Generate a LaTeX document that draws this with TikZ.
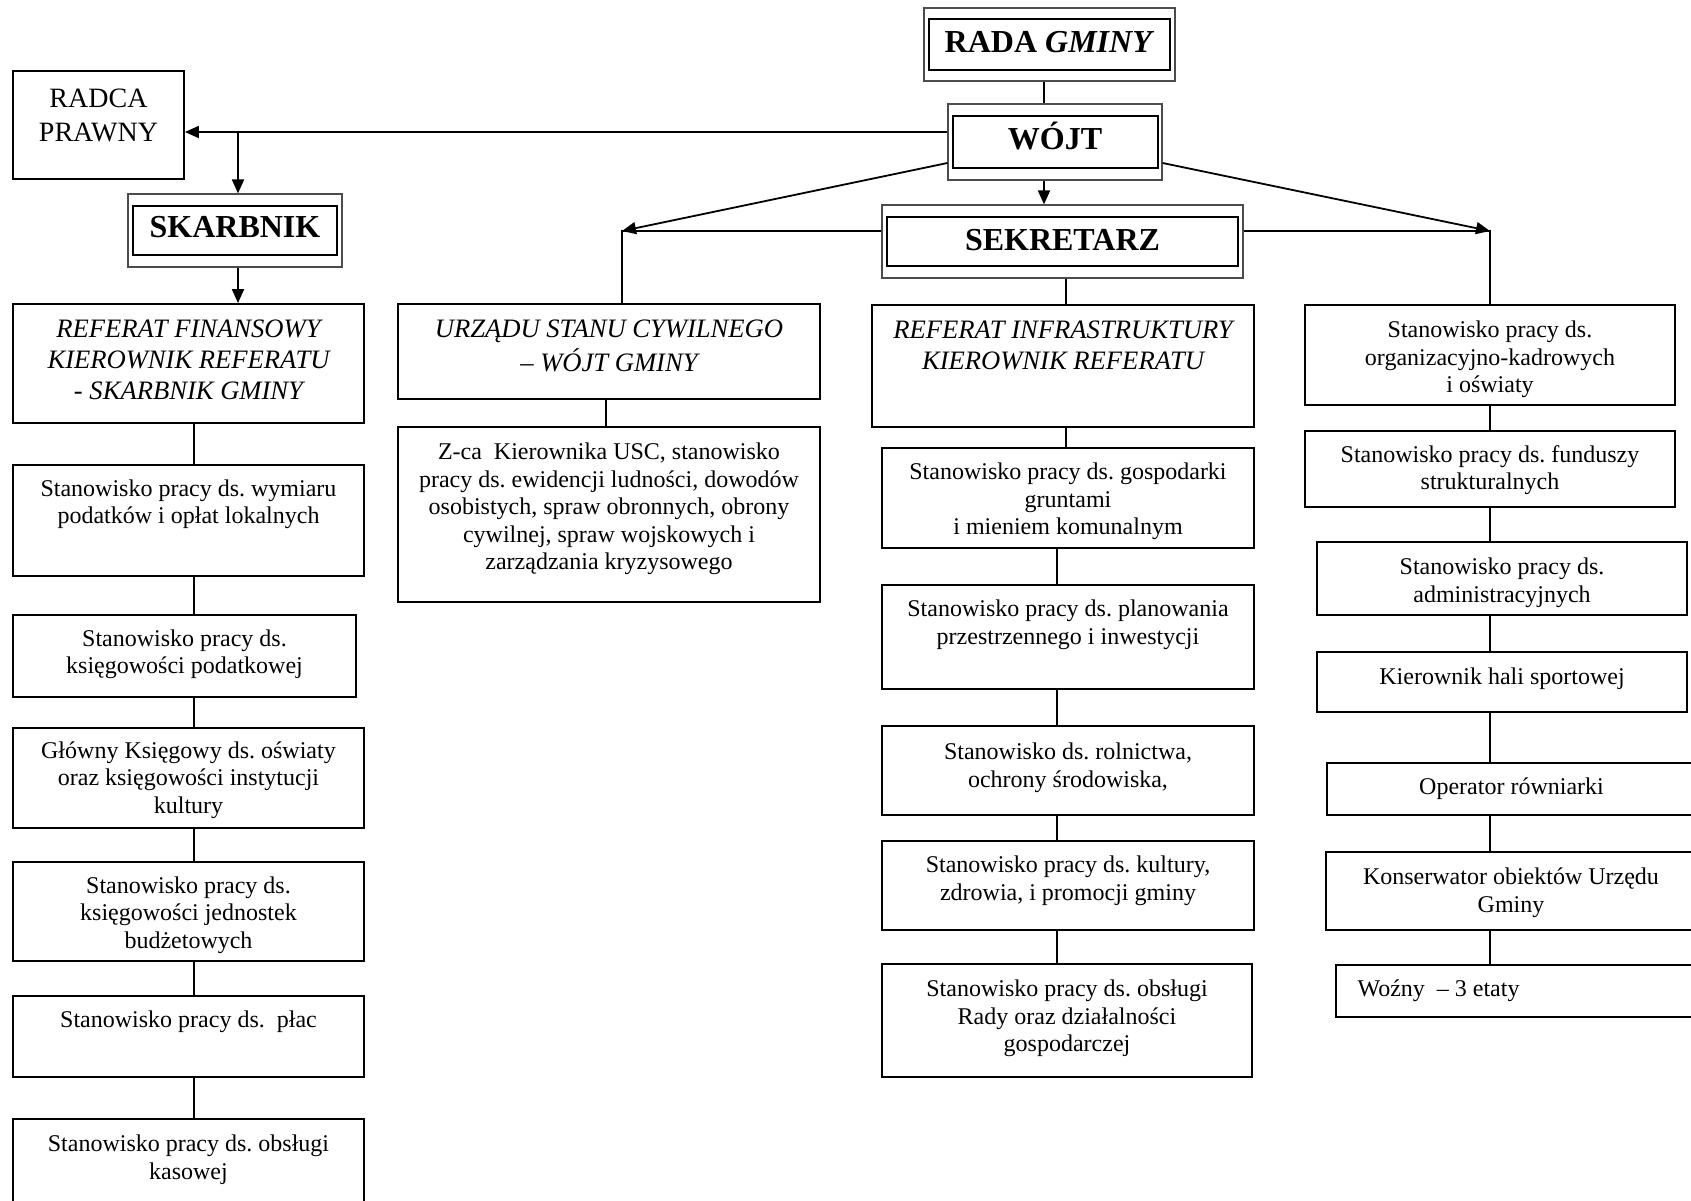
\documentclass[tikz,border=0pt]{standalone}
\usepackage{fontspec}
\setmainfont{Liberation Serif}
\usetikzlibrary{arrows.meta,calc,fit}
\frenchspacing
\newcommand\bx[8]{%
  \node[box, fit={(#2,#3) (#4,#5)}] (#1) {};
  \node[#7, anchor=north] (#1t) at ($(#1.north)+(0,#6)$) {\strut#8};}
\begin{document}
\begin{tikzpicture}[x=0.5pt,y=-0.5pt,
  box/.style={draw=black, line width=0.9pt, inner sep=0pt, rectangle},
  obox/.style={draw=black!70, line width=0.6pt, inner sep=0pt, rectangle},
  ibox/.style={draw=black, line width=1.3pt, inner sep=0pt, rectangle},
  txt/.style={inner sep=0pt, align=center, font=\fontsize{12}{13.8}\selectfont\frenchspacing},
  itx/.style={inner sep=0pt, align=center, font=\fontsize{13.3}{15.4}\selectfont\itshape\frenchspacing},
  rtx/.style={inner sep=0pt, align=center, font=\fontsize{14}{17}\selectfont},
  ttl/.style={inner sep=0pt, font=\fontsize{16}{18}\selectfont\bfseries},
  ln/.style={line width=0.9pt},
  arr/.style={line width=0.9pt, -{Triangle[length=7pt,width=6pt]}}]
\useasboundingbox[fill=white] (0,0) rectangle (1691,1200);
\clip (0,0) rectangle (1691,1200);

% ---- top level (double frames)
\node[obox, fit={(924,8) (1175,81)}] (rada) {};
\node[ibox, fit={(929,19) (1170,70)}] (radai) {};
\node[ttl, anchor=base] (radat) at ($(rada.north)+(0,45)$) {RADA \textit{GMINY}};

\node[obox, fit={(948,104) (1162,180)}] (wojt) {};
\node[ibox, fit={(953,116) (1158,168)}] (wojti) {};
\node[ttl, anchor=base] (wojtt) at ($(wojt.north)+(0,46)$) {WÓJT};

\node[obox, fit={(128,194) (342,267)}] (skarb) {};
\node[ibox, fit={(133,206) (337,255)}] (skarbi) {};
\node[ttl, anchor=base] (skarbt) at ($(skarb.north)+(0,44)$) {SKARBNIK};

\node[obox, fit={(882,205) (1243,278)}] (sek) {};
\node[ibox, fit={(887,217) (1238,266)}] (seki) {};
\node[ttl, anchor=base] (sekt) at ($(sek.north)+(0,46)$) {SEKRETARZ};

\bx{radca}{13}{71}{184}{179}{13}{rtx}{RADCA\\PRAWNY}

% ---- column 1
\bx{fin}{13}{304}{364}{423}{12.4}{itx}{REFERAT FINANSOWY\\KIEROWNIK REFERATU\\- SKARBNIK GMINY}
\bx{wym}{13}{465}{364}{576}{12.2}{txt}{Stanowisko pracy ds. wymiaru\\podatków i opłat lokalnych}
\bx{pod}{13}{615}{356}{697}{12.2}{txt}{Stanowisko pracy ds.\\księgowości podatkowej}
\bx{glo}{13}{728}{364}{828}{11.2}{txt}{Główny Księgowy ds. oświaty\\oraz księgowości instytucji\\kultury}
\bx{jed}{13}{862}{364}{961}{12.2}{txt}{Stanowisko pracy ds.\\księgowości jednostek\\budżetowych}
\bx{pla}{13}{996}{364}{1077}{12.2}{txt}{Stanowisko pracy ds.\ \ płac}
\bx{kas}{13}{1119}{364}{1215}{13.7}{txt}{Stanowisko pracy ds. obsługi\\kasowej}

% ---- column 2
\bx{urz}{398}{304}{820}{399}{12.4}{itx}{URZĄDU STANU CYWILNEGO\\– WÓJT GMINY}
\bx{zca}{398}{427}{820}{602}{13.7}{txt}{Z-ca\ \ Kierownika USC, stanowisko\\pracy ds. ewidencji ludności, dowodów\\osobistych, spraw obronnych, obrony\\cywilnej, spraw wojskowych i\\zarządzania kryzysowego}

% ---- column 3
\bx{inf}{872}{305}{1254}{427}{12.9}{itx}{REFERAT INFRASTRUKTURY\\KIEROWNIK REFERATU}
\bx{gos}{882}{448}{1254}{548}{12.7}{txt}{Stanowisko pracy ds. gospodarki\\gruntami\\i mieniem komunalnym}
\bx{pln}{882}{585}{1254}{689}{12.7}{txt}{Stanowisko pracy ds. planowania\\przestrzennego i inwestycji}
\bx{rol}{882}{726}{1254}{815}{14.7}{txt}{Stanowisko ds. rolnictwa,\\ochrony środowiska,}
\bx{kul}{882}{841}{1254}{930}{12.7}{txt}{Stanowisko pracy ds. kultury,\\zdrowia, i promocji gminy}
\bx{rad}{882}{964}{1252}{1077}{13.7}{txt}{Stanowisko pracy ds. obsługi\\Rady oraz działalności\\gospodarczej}

% ---- column 4
\bx{org}{1305}{305}{1675}{405}{13.7}{txt}{Stanowisko pracy ds.\\organizacyjno-kadrowych\\i oświaty}
\bx{fun}{1305}{431}{1675}{507}{12.2}{txt}{Stanowisko pracy ds. funduszy\\strukturalnych}
\bx{adm}{1317}{542}{1687}{615}{13.7}{txt}{Stanowisko pracy ds.\\administracyjnych}
\bx{hal}{1317}{652}{1687}{712}{13.7}{txt}{Kierownik hali sportowej}
\bx{ope}{1327}{763}{1696}{815}{12.7}{txt}{Operator równiarki}
\bx{kon}{1326}{852}{1696}{930}{13.7}{txt}{Konserwator obiektów Urzędu\\Gminy}
\node[box, fit={(1336,965) (1698,1017)}] (woz) {};
\node[txt, anchor=north west] (wozt) at ($(woz.north west)+(22,12.7)$) {\strut Woźny\ \ – 3 etaty};

% ---- connector helper coordinates
\coordinate (xR) at (1044,0);
\coordinate (yA) at (0,132);
\coordinate (yD) at (0,163);
\coordinate (brL) at (238,132);
\coordinate (dl) at (622,231);
\coordinate (dr) at (1490,231);
\coordinate (c1) at (194,0);
\coordinate (c2) at (606,0);
\coordinate (c3a) at (1066,0);
\coordinate (c3b) at (1057,0);
\coordinate (c4) at (1490,0);

% ---- connectors
\draw[ln] (rada.south -| xR) -- (wojt.north -| xR);
\draw[arr] (wojt.south -| xR) -- (sek.north -| xR);
\draw[arr] (wojt.west |- yA) -- (radca.east |- yA);
\draw[arr] (brL) -- (brL |- skarb.north);
\draw[arr] (skarb.south -| brL) -- (fin.north -| brL);

\draw[arr] (wojt.west |- yD) -- (dl);
\draw[ln] (sek.west |- dl) -- (dl) -- (dl |- urz.north);
\draw[arr] (wojt.east |- yD) -- (dr);
\draw[ln] (sek.east |- dr) -- (dr) -- (dr |- org.north);

\foreach \a/\b in {fin/wym, wym/pod, pod/glo, glo/jed, jed/pla, pla/kas}
  \draw[ln] (\a.south -| c1) -- (\b.north -| c1);
\draw[ln] (urz.south -| c2) -- (zca.north -| c2);
\draw[ln] (sek.south -| c3a) -- (inf.north -| c3a);
\draw[ln] (inf.south -| c3a) -- (gos.north -| c3a);
\foreach \a/\b in {gos/pln, pln/rol, rol/kul, kul/rad}
  \draw[ln] (\a.south -| c3b) -- (\b.north -| c3b);
\foreach \a/\b in {org/fun, fun/adm, adm/hal, hal/ope, ope/kon, kon/woz}
  \draw[ln] (\a.south -| c4) -- (\b.north -| c4);
\end{tikzpicture}
\end{document}
